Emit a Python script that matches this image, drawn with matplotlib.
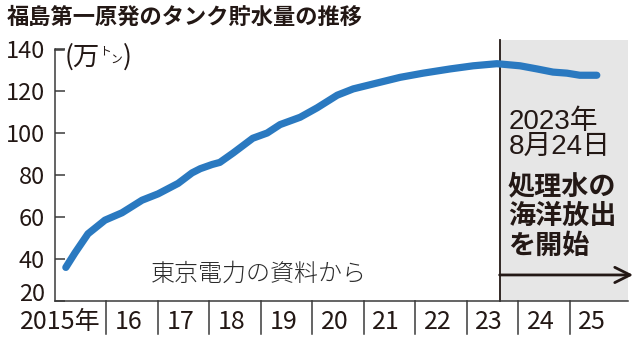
import matplotlib
matplotlib.use("Agg")
import matplotlib.pyplot as plt

# ---- data ----
years = [2015.22, 2015.40, 2015.65, 2015.98, 2016.31, 2016.70, 2017.01, 2017.40,
         2017.67, 2017.83, 2018.06, 2018.21, 2018.47, 2018.85, 2019.13, 2019.38,
         2019.77, 2020.10, 2020.49, 2020.80, 2021.13, 2021.71, 2022.16, 2022.68,
         2023.13, 2023.59, 2024.04, 2024.37, 2024.68, 2024.95, 2025.20, 2025.53]
storage = [36, 43, 52, 58.5, 62, 68, 71, 76,
           81, 83, 85, 86, 90.5, 97.5, 100, 104,
           107.5, 112, 118, 121, 123, 126.5, 128.5, 130.5,
           132, 133, 132, 130.5, 129, 128.5, 127.5, 127.5]
year_labels = ["2015年", "16", "17", "18", "19", "20", "21", "22", "23", "24", "25"]
year_starts = list(range(2015, 2026))
y_ticks = [20, 40, 60, 80, 100, 120, 140]
release_date = 2023 + 235 / 365  # 2023-08-24

title = "福島第一原発のタンク貯水量の推移"
source = "東京電力の資料から"
note1 = ["2023年", "8月24日"]
note2 = ["処理水の", "海洋放出", "を開始"]

# ---- style ----
INK = "#231815"
AX = "#3a3a3a"
BLUE = "#2a79c0"
SHADE = "#e6e6e6"
NUM = ["Liberation Sans Narrow", "Noto Sans CJK JP", "DejaVu Sans"]
NUMR = ["Liberation Sans", "Noto Sans CJK JP", "DejaVu Sans"]
JP = ["Noto Sans CJK JP", "DejaVu Sans"]

W, H = 640, 341
fig = plt.figure(figsize=(W / 100, H / 100), dpi=100)

def px(x, y):
    return x / W, 1 - y / H

x0, x1 = 2015, 2015 + (628 - 54.5) / 51.5
ax_h_px = 301 - 49
ax = fig.add_axes([54.5 / W, (H - 301) / H, (628 - 54.5) / W, ax_h_px / H])
ax.set_xlim(x0, x1)
ax.set_ylim(20, 140)

for s in ("top", "right"):
    ax.spines[s].set_visible(False)
for s in ("left", "bottom"):
    ax.spines[s].set_color(AX)
    ax.spines[s].set_linewidth(1.1)

# shaded region after release
top_frac = 1.036
ax.axvspan(release_date, x1, ymin=0, ymax=top_frac, color=SHADE, lw=0,
           clip_on=False, zorder=0)
ax.axvline(release_date, ymin=0, ymax=top_frac, color=INK, lw=1.3,
           clip_on=False, zorder=1)

# data line
ax.plot(years, storage, color=BLUE, lw=5.2, solid_capstyle="round",
        solid_joinstyle="round", zorder=3)

# y ticks
ax.set_yticks(y_ticks)
ax.set_yticklabels([str(v) for v in y_ticks], family=NUM, fontsize=17, color=INK)
ax.tick_params(axis="y", direction="in", length=7.5, width=1.1, color=AX, pad=7)
ax.get_yticklabels()[0].set_verticalalignment("baseline")

# x labels between year separators
label_pos = [2015.12] + [y + 0.44 for y in year_starts[1:]]
ax.set_xticks(label_pos)
ax.set_xticklabels(year_labels, family=NUM, fontsize=18, color=INK)
ax.tick_params(axis="x", which="major", length=0, pad=6)

# year separators below the axis
sep_frac = 33 / ax_h_px
trans = ax.get_xaxis_transform()
for ys in year_starts[1:]:
    ax.plot([ys, ys], [0, -sep_frac], transform=trans, color=AX, lw=1.1,
            clip_on=False, zorder=2)

# arrow
ax.annotate("", xy=(x1 + 0.1, 32.4), xytext=(release_date, 32.4),
            arrowprops=dict(arrowstyle="->,head_length=1.1,head_width=0.55",
                            color=INK, lw=2.0, shrinkA=0, shrinkB=0),
            annotation_clip=False, zorder=4)

# annotation texts
fig.text(*px(509, 122), note1[0], family=NUMR, fontsize=20, color=INK, va="center", ha="left")
fig.text(*px(509, 147), note1[1], family=NUMR, fontsize=20, color=INK, va="center", ha="left")
for i, line in enumerate(note2):
    fig.text(*px(508, 186 + i * 30), line, family=JP, fontsize=19.5, fontweight="bold",
             color=INK, va="center", ha="left")

# source
fig.text(*px(151, 274), source, family=JP, fontsize=17.3, fontweight="light",
         color="#2b2b2b", va="center", ha="left")

# unit label (万トン)
fig.text(*px(65, 57), "(万", family=JP, fontsize=19, color=INK, va="center", ha="left")
fig.text(*px(99, 51), "ト", family=JP, fontsize=8.5, color=INK, va="center", ha="left")
fig.text(*px(110, 59), "ン", family=JP, fontsize=8.5, color=INK, va="center", ha="left")
fig.text(*px(123, 57), ")", family=JP, fontsize=19, color=INK, va="center", ha="left")
# connector from top tick
fig.add_artist(plt.Line2D([54.5 / W, 64 / W], [1 - 50 / H, 1 - 50 / H], color=AX, lw=1.1))

# title
fig.text(*px(7, 17), title, family=JP, fontsize=16, fontweight="bold",
         color=INK, va="center", ha="left")

fig.savefig("out.png", dpi=100, facecolor="white")
